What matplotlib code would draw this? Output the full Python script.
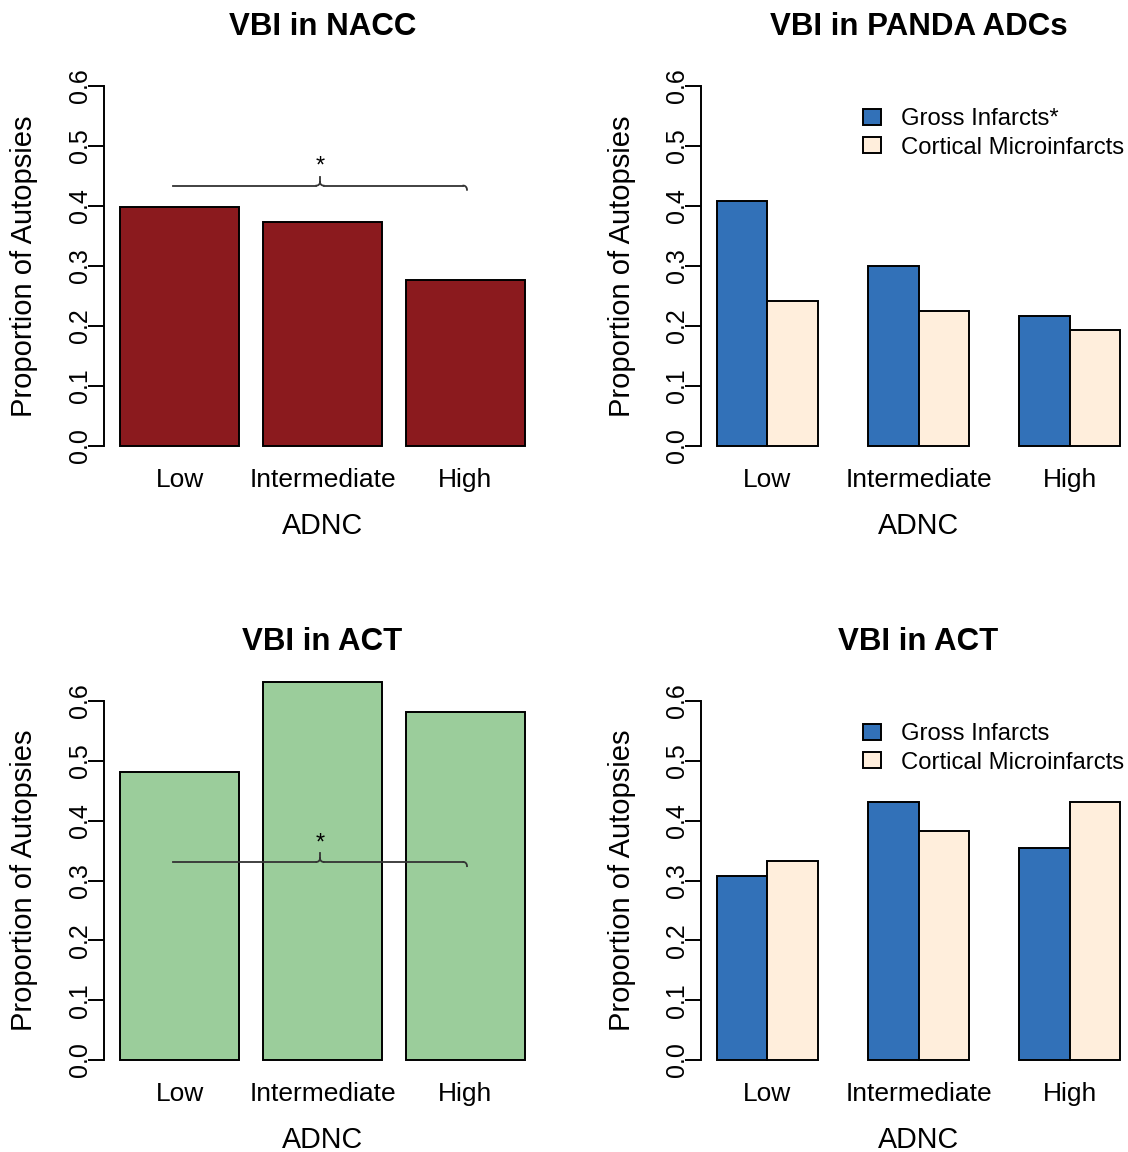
import numpy as np
import matplotlib.pyplot as plt
from matplotlib.patches import Patch
from matplotlib.transforms import offset_copy

plt.rcParams['font.family'] = ['Liberation Sans', 'DejaVu Sans']

# data
adnc = ["Low", "Intermediate", "High"]
nacc_vbi = [0.399, 0.374, 0.277]
act_vbi = [0.481, 0.631, 0.582]
panda_gross = [0.409, 0.300, 0.216]
panda_cmi = [0.242, 0.225, 0.193]
act_gross = [0.307, 0.431, 0.355]
act_cmi = [0.333, 0.383, 0.432]
yticks = [0.0, 0.1, 0.2, 0.3, 0.4, 0.5, 0.6]
# significance brace: left, right, height (data units)
nacc_brace = [0.645, 3.113, 0.434]
act_brace = [0.645, 3.113, 0.331]

W, H = 1128, 1152
fig = plt.figure(figsize=(W / 100, H / 100), dpi=100)

RED = "#8B1A1E"
GREEN = "#9BCD9B"
BLUE = "#3271B8"
CREAM = "#FFEEDC"
LW = 1.4


def add_panel(L, R, T, B):
    return fig.add_axes([L / W, 1 - B / H, (R - L) / W, (B - T) / H])


def style_axis(ax, title, xcenters):
    ax.set_ylim(-0.024, 0.624)
    for s in ["top", "right", "bottom"]:
        ax.spines[s].set_visible(False)
    ax.spines["left"].set_bounds(0, 0.6)
    ax.spines["left"].set_linewidth(LW)
    ax.set_yticks(yticks, labels=[])
    ax.tick_params(axis="y", length=11.5, width=LW, direction="out")
    tr = offset_copy(ax.get_yaxis_transform(), fig=fig, x=-17.1, units="dots")
    for v in yticks:
        ax.text(0, v, f"{v:.1f}", transform=tr, rotation=90, rotation_mode="anchor",
                ha="center", va="baseline", fontsize=18)
    ax.set_xticks(xcenters, labels=adnc)
    ax.tick_params(axis="x", length=0, pad=5.6, labelsize=19)
    ax.set_title(title, fontsize=22.5, fontweight="bold", pad=26.6)
    # axis labels placed in pixel space
    bb = ax.get_position()
    cx = (bb.x0 + bb.x1) / 2
    cy = (bb.y0 + bb.y1) / 2
    fig.text(cx, bb.y0 - 65.6 / H, "ADNC", ha="center", va="center", fontsize=20.6)
    fig.text(bb.x0 - 79.3 / W, cy, "Proportion of Autopsies", rotation=90,
             ha="center", va="center", fontsize=21)


def single_panel(ax, vals, color, title, brace):
    x = np.arange(len(vals)) * 1.2 + 0.2 + 0.5
    ax.bar(x, vals, width=1.0, color=color, edgecolor="black", linewidth=LW, clip_on=False)
    ax.set_xlim(0.064, 3.736)
    style_axis(ax, title, x)
    x0, x1, y = brace
    xm = (x0 + x1) / 2
    tip = 0.015
    ax.plot([x0, xm - 0.03], [y, y], color="#333333", lw=1.3)
    ax.plot([xm + 0.03, x1 - 0.03], [y, y], color="#333333", lw=1.3)
    t = np.linspace(0, np.pi / 2, 12)
    ax.plot(xm - 0.03 + 0.03 * np.sin(t), y + tip * 0.4 * (1 - np.cos(t)), color="#333333", lw=1.3)
    ax.plot(xm + 0.03 - 0.03 * np.sin(t), y + tip * 0.4 * (1 - np.cos(t)), color="#333333", lw=1.3)
    ax.plot([xm, xm], [y + tip * 0.4, y + tip], color="#333333", lw=1.3)
    ax.plot(x1 - 0.03 + 0.03 * np.sin(t), y - 0.007 * (1 - np.cos(t)), color="#333333", lw=1.3)
    ax.text(xm, y + 0.021, "*", ha="center", va="baseline", fontsize=17)


def grouped_panel(ax, gross, cmi, title, gross_label):
    g = np.arange(len(gross)) * 3
    ax.bar(g + 1.5, gross, width=1.0, color=BLUE, edgecolor="black", linewidth=LW, clip_on=False)
    ax.bar(g + 2.5, cmi, width=1.0, color=CREAM, edgecolor="black", linewidth=LW, clip_on=False)
    ax.set_xlim(0.68, 9.32)
    style_axis(ax, title, g + 2)
    handles = [Patch(facecolor=BLUE, edgecolor="black", linewidth=LW),
               Patch(facecolor=CREAM, edgecolor="black", linewidth=LW)]
    ax.legend(handles, [gross_label, "Cortical Microinfarcts"], frameon=False,
              loc="upper left", bbox_to_anchor=(863 / W, 1 - (ax_top(ax) + 36.5) / H),
              bbox_transform=fig.transFigure, borderpad=0, borderaxespad=0,
              fontsize=17.2, handlelength=0.75, handleheight=0.63,
              handletextpad=0.84, labelspacing=0.27)


def ax_top(ax):
    return (1 - ax.get_position().y1) * H


ax1 = add_panel(103.8, 541.2, 71.6, 460.4)
single_panel(ax1, nacc_vbi, RED, "VBI in NACC", nacc_brace)

ax2 = add_panel(700.9, 1136.1, 71.6, 460.4)
grouped_panel(ax2, panda_gross, panda_cmi, "VBI in PANDA ADCs", "Gross Infarcts*")

ax3 = add_panel(103.8, 541.2, 686.6, 1074.4)
single_panel(ax3, act_vbi, GREEN, "VBI in ACT", act_brace)

ax4 = add_panel(700.9, 1136.1, 686.6, 1074.4)
grouped_panel(ax4, act_gross, act_cmi, "VBI in ACT", "Gross Infarcts")

fig.savefig("out.png", dpi=100)
